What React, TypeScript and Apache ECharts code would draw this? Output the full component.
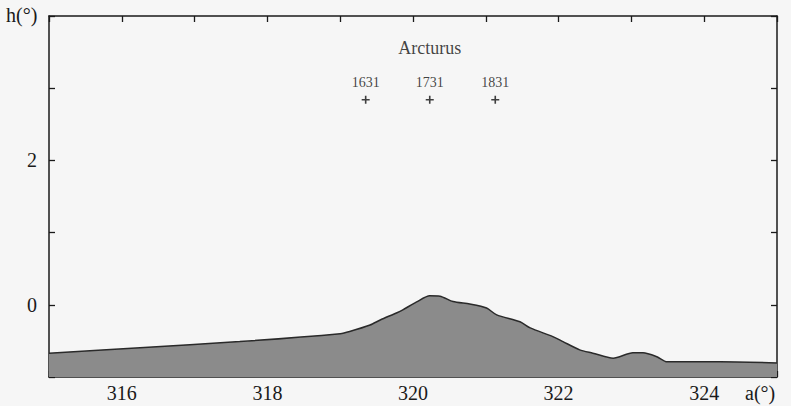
import React, { useEffect, useRef } from "react";
import * as echarts from "echarts";

// Horizon profile: azimuth a (deg) and altitude h (deg)
const horizonA = [315.0, 316.25, 317.62, 319.0, 319.13, 319.41, 319.55, 319.78, 319.86, 320.05, 320.23, 320.37, 320.55, 320.78, 321.01, 321.15, 321.47, 321.61, 321.92, 322.06, 322.29, 322.47, 322.75, 323.02, 323.16, 323.35, 323.49, 324.22, 325.0];
const horizonH = [-0.67, -0.595, -0.51, -0.40, -0.37, -0.28, -0.21, -0.11, -0.07, 0.04, 0.125, 0.12, 0.045, 0.01, -0.045, -0.14, -0.235, -0.32, -0.44, -0.51, -0.625, -0.67, -0.74, -0.665, -0.665, -0.72, -0.79, -0.79, -0.805];

// Arcturus positions at three epochs
const starYears = ["1631", "1731", "1831"];
const starA = [319.35, 320.23, 321.13];
const starH = [2.84, 2.84, 2.84];

const starName = "Arcturus";
const starNamePos = [320.23, 3.55];

const xTickLabels = [316, 318, 320, 322, 324];
const yTickLabels = [0, 2];

const FONT = "Liberation Serif";
const INK = "#1a1a1a";

export default function App() {
  const ref = useRef<HTMLDivElement>(null);
  useEffect(() => {
    if (!ref.current) return;
    const chart = echarts.init(ref.current, undefined, { renderer: "svg" });
    const axisCommon = {
      axisLine: { show: true, onZero: false, lineStyle: { color: INK, width: 1.5 } },
      axisTick: { show: true, inside: true, length: 6, lineStyle: { color: INK, width: 1.3 } },
      splitLine: { show: false },
    };
    chart.setOption({
      animation: false,
      backgroundColor: "#f6f6f6",
      grid: { left: 49, right: 14, top: 16, bottom: 29, containLabel: false },
      xAxis: [
        {
          type: "value", min: 315, max: 325, interval: 1, position: "bottom",
          ...axisCommon,
          axisLabel: {
            margin: 6, fontFamily: FONT, fontSize: 20, color: INK,
            formatter: (v: number) => (xTickLabels.includes(v) ? String(v) : ""),
          },
        },
        {
          type: "value", min: 315, max: 325, interval: 1, position: "top",
          ...axisCommon, axisLabel: { show: false },
        },
      ],
      yAxis: [
        {
          type: "value", min: -1, max: 4, interval: 1, position: "left",
          ...axisCommon,
          axisLabel: {
            margin: 12, fontFamily: FONT, fontSize: 20, color: INK,
            formatter: (v: number) => (yTickLabels.includes(v) ? String(v) : ""),
          },
        },
        {
          type: "value", min: -1, max: 4, interval: 1, position: "right",
          ...axisCommon, axisLabel: { show: false },
        },
      ],
      graphic: [
        { type: "text", left: 6, top: 5, style: { text: "h(°)", fontFamily: FONT, fontSize: 20, fill: INK } },
        { type: "text", left: 745, top: 383, style: { text: "a(°)", fontFamily: FONT, fontSize: 20, fill: INK } },
      ],
      series: [
        {
          type: "line",
          data: horizonA.map((a, i) => [a, horizonH[i]]),
          showSymbol: false,
          symbol: "none",
          smooth: 0.25,
          lineStyle: { color: "#2a2a2a", width: 1.5 },
          areaStyle: { color: "#8b8b8b", opacity: 1, origin: "start" },
          z: 1,
        },
        {
          type: "scatter",
          data: starA.map((a, i) => ({ value: [a, starH[i]], name: starYears[i] })),
          symbol: "path://M4,0 L6,0 L6,4 L10,4 L10,6 L6,6 L6,10 L4,10 L4,6 L0,6 L0,4 L4,4 Z",
          symbolSize: 8,
          itemStyle: { color: "#111" },
          label: {
            show: true, position: "top", distance: 6,
            formatter: (p: any) => p.name,
            fontFamily: FONT, fontSize: 14, color: "#111",
          },
          z: 3,
        },
        {
          type: "scatter",
          data: [{ value: starNamePos, name: starName }],
          symbolSize: 0,
          label: {
            show: true, position: "inside",
            formatter: (p: any) => p.name,
            fontFamily: FONT, fontSize: 18, color: "#111",
          },
          z: 3,
        },
      ],
    });
    return () => chart.dispose();
  }, []);
  return (
    <div
      ref={ref}
      style={{ position: "absolute", left: 0, top: 0, width: 791, height: 406 }}
    />
  );
}
